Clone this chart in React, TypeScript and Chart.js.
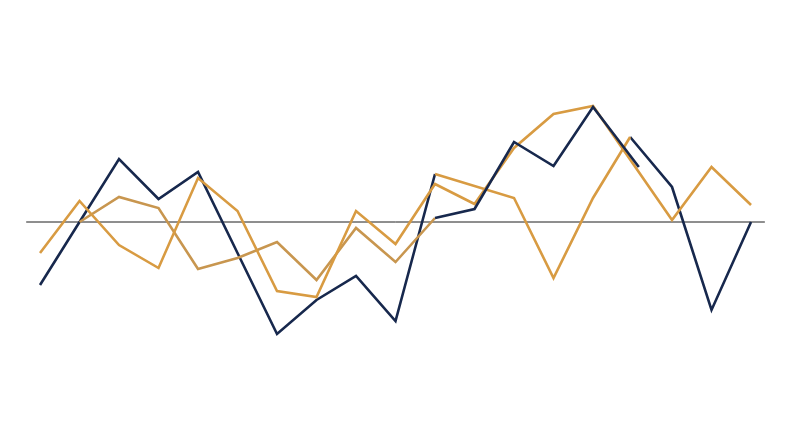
import React, { useEffect, useRef } from 'react';
import Chart, { ChartConfiguration } from 'chart.js/auto';

// x positions are period indexes (0..18), y values are in chart units (0 = baseline)
const navyStartX = [0, 1, 2, 3, 4, 5, 6, 7, 8, 9, 10];
const navyStartY = [-6.3, 0, 6.3, 2.3, 5.0, -3.1, -11.2, -7.8, -5.4, -9.9, 4.8];

const navyMidX = [10, 11, 12, 13, 14, 15.16];
const navyMidY = [0.4, 1.3, 8.0, 5.6, 11.5, 5.5];

const navyEndX = [14.94, 16, 17, 18];
const navyEndY = [8.5, 3.5, -8.8, 0];

const goldMainX = [0, 1, 2, 3, 4, 5, 6, 7, 8, 9, 10, 11, 12, 13, 14, 16, 17, 18];
const goldMainY = [-3.1, 2.1, -2.3, -4.6, 4.4, 1.1, -6.9, -7.5, 1.1, -2.2, 3.8, 1.8, 7.4, 10.8, 11.6, 0.2, 5.5, 1.7];

const goldLowX = [1, 2, 3, 4, 5, 6, 7, 8, 9, 10];
const goldLowY = [0, 2.5, 1.4, -4.7, -3.6, -2.0, -5.8, -0.6, -4.0, 0.4];

const goldLateX = [10, 12, 13, 14, 14.94];
const goldLateY = [4.8, 2.4, -5.6, 2.4, 8.5];

const baselineX = [-0.35, 18.35];
const baselineY = [0, 0];

const NAVY = '#17284d';
const GOLD = '#d89b42';
const GOLD_DARK = '#c8964f';

const pts = (xs: number[], ys: number[]) => xs.map((x, i) => ({ x, y: ys[i] }));

const line = (xs: number[], ys: number[], color: string, width = 2.6) => ({
  data: pts(xs, ys),
  borderColor: color,
  borderWidth: width,
  pointRadius: 0,
  tension: 0,
  fill: false,
  borderJoinStyle: 'miter' as const,
  borderCapStyle: 'butt' as const,
});

const App: React.FC = () => {
  const canvasRef = useRef<HTMLCanvasElement>(null);
  const chartRef = useRef<Chart>();

  useEffect(() => {
    if (!canvasRef.current) return;
    if (chartRef.current) chartRef.current.destroy();
    const ctx = canvasRef.current.getContext('2d');
    if (!ctx) return;

    const config: ChartConfiguration<'line', { x: number; y: number }[]> = {
      type: 'line',
      data: {
        datasets: [
          line(navyMidX, navyMidY, NAVY),
          line(goldMainX, goldMainY, GOLD),
          line(goldLateX, goldLateY, GOLD),
          line(goldLowX, goldLowY, GOLD_DARK),
          line(navyStartX, navyStartY, NAVY),
          line(navyEndX, navyEndY, NAVY),
          line(baselineX, baselineY, '#1e1e1e', 1),
        ],
      },
      options: {
        animation: false,
        responsive: true,
        maintainAspectRatio: false,
        layout: { padding: 0 },
        plugins: {
          legend: { display: false },
          tooltip: { enabled: false },
        },
        scales: {
          x: { type: 'linear', min: -1.013, max: 19.24, display: false },
          y: { type: 'linear', min: -22.5, max: 22.2, display: false },
        },
      },
    };

    chartRef.current = new Chart(ctx, config);

    return () => {
      if (chartRef.current) {
        chartRef.current.destroy();
        chartRef.current = undefined;
      }
    };
  }, []);

  return (
    <div style={{ position: 'fixed', left: 0, top: 0, width: 800, height: 447, background: '#fff' }}>
      <canvas ref={canvasRef} />
    </div>
  );
};

export default App;
